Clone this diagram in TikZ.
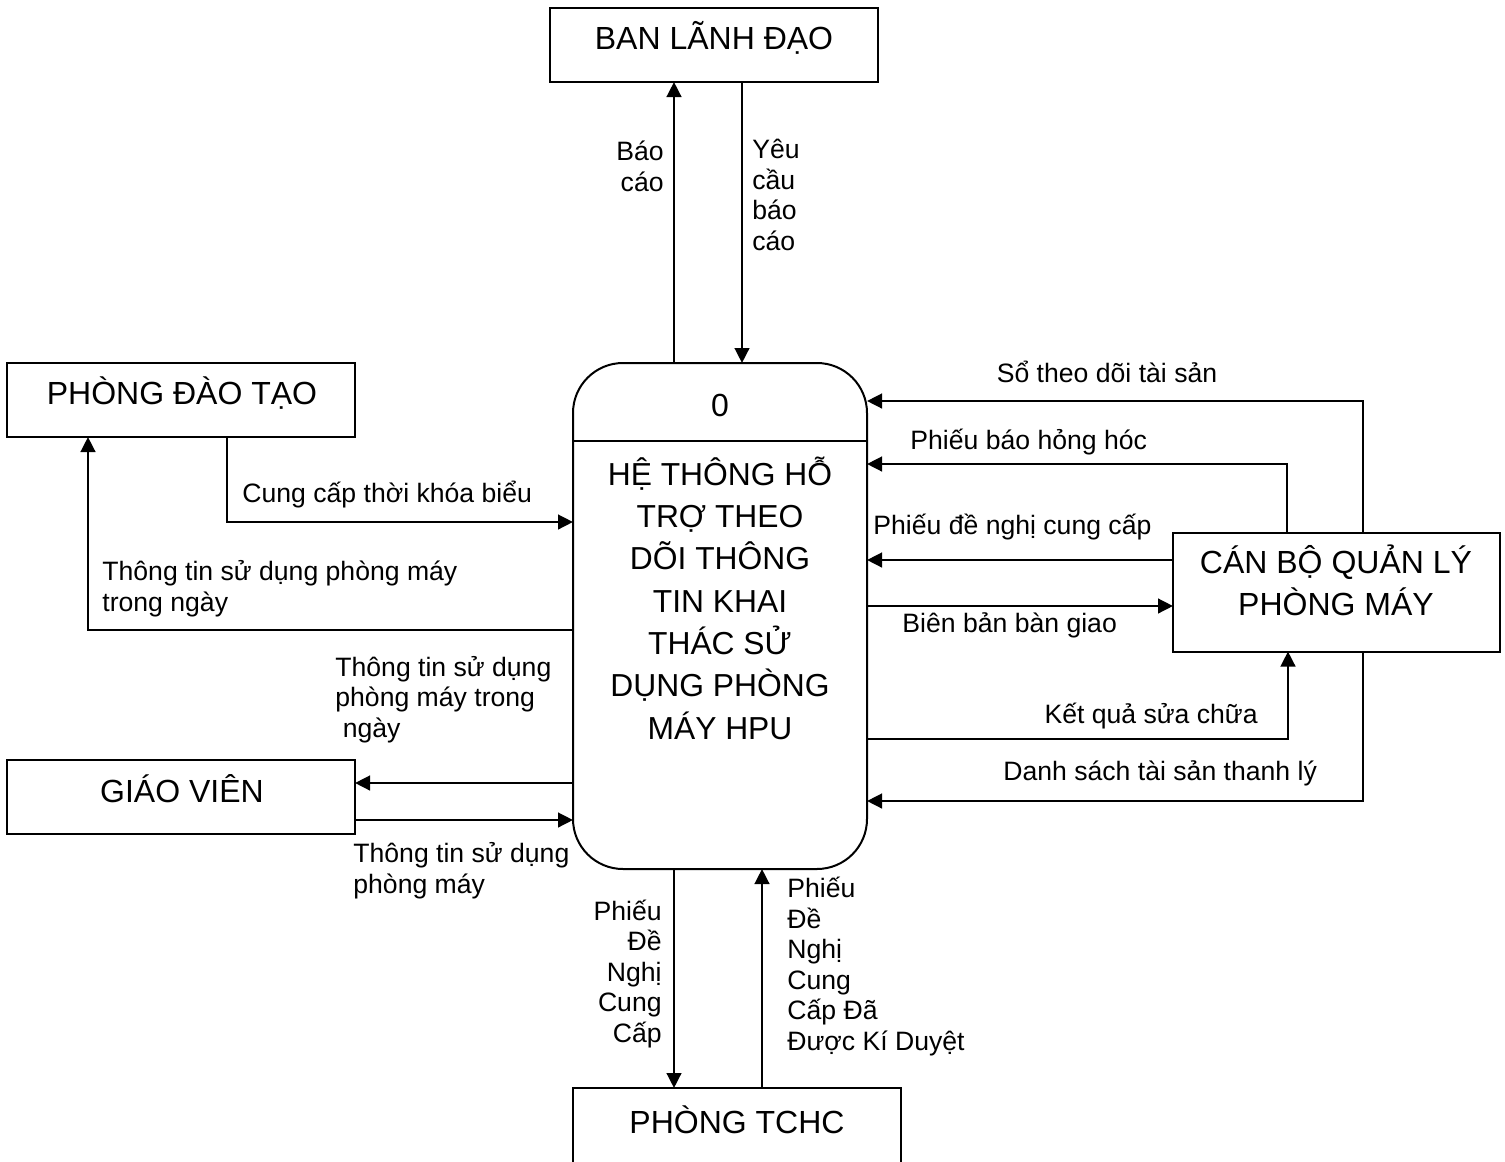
\documentclass[tikz,border=0pt]{standalone}
\usepackage{fontspec}
\setmainfont{Liberation Sans}
\usetikzlibrary{arrows.meta,calc}
\tikzset{
  entity/.style={draw, line width=1pt, inner sep=0pt, outer sep=0pt},
  bigtxt/.style={inner sep=0pt, anchor=base, align=center,
    font=\fontsize{16pt}{21pt}\selectfont},
  lbl/.style={inner sep=0pt, font=\fontsize{13.3pt}{15.25pt}\selectfont},
  flow/.style={line width=1.25pt, -{Triangle[length=7.5pt,width=7.3pt]}},
}
\begin{document}
\begin{tikzpicture}[x=0.5pt,y=-0.5pt]
\useasboundingbox (0,0) rectangle (1505,1162);
\clip (0,0) rectangle (1505,1162);

% external entities
\node[entity, minimum width=164pt, minimum height=37pt] (ban) at (714,45) {};
\node[entity, minimum width=174pt, minimum height=37pt] (pdt) at (181,400) {};
\node[entity, minimum width=174pt, minimum height=37pt] (gv) at (181,797) {};
\node[entity, minimum width=163.5pt, minimum height=59.5pt] (cb) at (1336.5,592) {};
\node[entity, minimum width=164pt, minimum height=40pt] (tchc) at (737,1128) {};

% the process
\node[entity, rounded corners=25pt, minimum width=147pt, minimum height=253pt] (proc) at (720,616) {};
\draw[line width=1pt] ($(proc.north west)+(0,78)$) -- ($(proc.north east)+(0,78)$);

% entity names (multi-line texts are placed by the baseline of their last line)
\node[bigtxt] (banT) at (714,49) {BAN LÃNH ĐẠO};
\node[bigtxt] (pdtT) at (182,404) {PHÒNG ĐÀO TẠO};
\node[bigtxt] (gvT) at (182,802) {GIÁO VIÊN};
\node[bigtxt] (cbT) at (1336,615) {CÁN BỘ QUẢN LÝ\\PHÒNG MÁY};
\node[bigtxt] (tchcT) at (737,1133) {PHÒNG TCHC};
\node[bigtxt] (procId) at (720,416) {0};
\node[bigtxt, font=\fontsize{15.9pt}{21.15pt}\selectfont] (procT) at (720,739)
  {HỆ THÔNG HỖ\\TRỢ THEO\\DÕI THÔNG\\TIN KHAI\\THÁC SỬ\\DỤNG PHÒNG\\MÁY HPU};

% data flows
\draw[flow] ($(proc.north)+(-46,0)$) -- ($(ban.south)+(-40,0)$);
\draw[flow] ($(ban.south)+(28,0)$) -- ($(proc.north)+(22,0)$);
\draw[flow] ($(pdt.south)+(46,0)$) |- ($(proc.west)+(0,-94)$);
\draw[flow] ($(proc.west)+(0,14)$) -| ($(pdt.south)+(-93,0)$);
\draw[flow] ($(proc.west)+(0,167)$) -- ($(gv.east)+(0,-14)$);
\draw[flow] ($(gv.east)+(0,23)$) -- ($(proc.west)+(0,204)$);
\draw[flow] ($(cb.north)+(26.5,0)$) |- ($(proc.east)+(0,-215)$);
\draw[flow] ($(cb.north)+(-49.5,0)$) |- ($(proc.east)+(0,-152)$);
\draw[flow] ($(cb.west)+(0,-32)$) -- ($(proc.east)+(0,-56)$);
\draw[flow] ($(proc.east)+(0,-10)$) -- ($(cb.west)+(0,14)$);
\draw[flow] ($(proc.east)+(0,123)$) -| ($(cb.south)+(-48.5,0)$);
\draw[flow] ($(cb.south)+(26.5,0)$) |- ($(proc.east)+(0,185)$);
\draw[flow] ($(proc.south)+(-46,0)$) -- ($(tchc.north)+(-63,0)$);
\draw[flow] ($(tchc.north)+(25,0)$) -- ($(proc.south)+(42,0)$);

% flow labels
\node[lbl, anchor=base east, align=right] (l1) at (664,191) {Báo\\cáo};
\node[lbl, anchor=base west, align=left] (l2) at (752,250) {Yêu\\cầu\\báo\\cáo};
\node[lbl, anchor=base west] (l3) at (242,502) {Cung cấp thời khóa biểu};
\node[lbl, anchor=base west, align=left] (l4) at (102,611) {Thông tin sử dụng phòng máy\\trong ngày};
\node[lbl, anchor=base west, align=left] (l5) at (335,737) {Thông tin sử dụng\\phòng máy trong\\\ ngày};
\node[lbl, anchor=base west, align=left] (l6) at (353,893) {Thông tin sử dụng\\phòng máy};
\node[lbl, anchor=base] (l7) at (1107,382) {Sổ theo dõi tài sản};
\node[lbl, anchor=base west] (l8) at (910,449) {Phiếu báo hỏng hóc};
\node[lbl, anchor=base west] (l9) at (873,534) {Phiếu đề nghị cung cấp};
\node[lbl, anchor=base west] (l10) at (902,632) {Biên bản bàn giao};
\node[lbl, anchor=base east] (l11) at (1258,723) {Kết quả sửa chữa};
\node[lbl, anchor=base west] (l12) at (1003,780) {Danh sách tài sản thanh lý};
\node[lbl, anchor=base east, align=right] (l13) at (662,1042) {Phiếu\\Đề\\Nghị\\Cung\\Cấp};
\node[lbl, anchor=base west, align=left] (l14) at (787,1050) {Phiếu\\Đề\\Nghị\\Cung\\Cấp Đã\\Được Kí Duyệt};
\end{tikzpicture}
\end{document}
